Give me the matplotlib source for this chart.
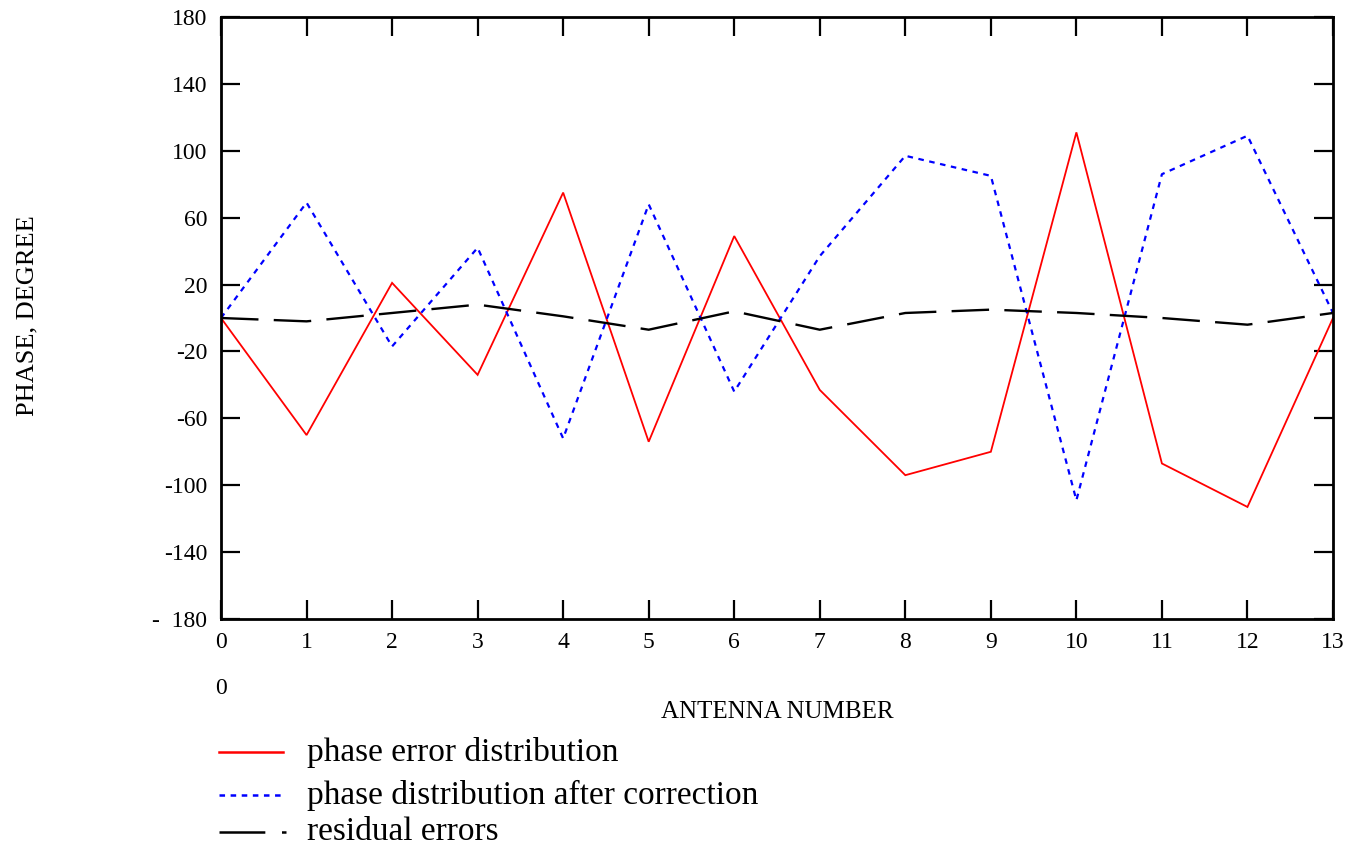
import matplotlib
matplotlib.use("Agg")
import matplotlib.pyplot as plt
from matplotlib.lines import Line2D

antenna = list(range(14))
phase_error = [0, -70, 21, -34, 75, -74, 49, -43, -94, -80, 111, -87, -113, 0]
after_correction = [0, 69, -17, 42, -72, 68, -44, 37, 97, 85, -109, 86, 109, 3]
residual = [0, -2, 3, 8, 1, -7, 4, -7, 3, 5, 3, 0, -4, 3]

yticks = [-180, -140, -100, -60, -20, 20, 60, 100, 140, 180]
ytick_labels = ["-  180", "-140", "-100", "-60", "-20", "20", "60", "100", "140", "180"]
legend_labels = ["phase error distribution", "phase distribution after correction", "residual errors"]

plt.rcParams['font.family'] = ['Liberation Serif', 'DejaVu Serif']
plt.rcParams['lines.scale_dashes'] = False

W, H = 1353, 849
fig = plt.figure(figsize=(W/100, H/100), dpi=100)
ax = fig.add_axes([221/W, 1-619/H, (1333-221)/W, (619-17)/H])

blue_style = (0, (4, 4))
black_style = (0, (27, 11))

ax.plot(antenna, phase_error, color='#ff0000', lw=1.3, solid_joinstyle='miter')
ax.plot(antenna, after_correction, color='#0000ff', lw=1.6, linestyle=blue_style)
ax.plot(antenna, residual, color='black', lw=1.7, linestyle=black_style)

ax.set_xlim(0, 13)
ax.set_ylim(-180, 180)
ax.set_xticks(antenna)
ax.set_xticklabels([str(a) for a in antenna], fontsize=17)
ax.set_yticks(yticks)
ax.set_yticklabels(ytick_labels, fontsize=17)
ax.tick_params(direction='in', length=14, width=1.6, top=True, right=True)
ax.tick_params(axis='y', pad=10)
ax.tick_params(axis='x', pad=9)
for s in ax.spines.values():
    s.set_linewidth(2.0)

fig.text(27/W, 1-316/H, "PHASE, DEGREE", rotation=90, ha='center', va='center', fontsize=19)
fig.text(777/W, 1-712/H, "ANTENNA NUMBER", ha='center', va='center', fontsize=18)
fig.text(221/W, 1-688/H, "0", ha='center', va='center', fontsize=17)

# legend drawn below the axes
rows = [752, 795, 832]
handles = [dict(color='#ff0000', lw=1.8, ls='-', x1=283),
           dict(color='#0000ff', lw=1.8, ls=blue_style, x1=283),
           dict(color='black', lw=1.8, ls=(0, (33, 12)), x1=286)]
for y, h, lab in zip(rows, handles, legend_labels):
    fig.add_artist(Line2D([219/W, h['x1']/W], [1-y/H, 1-y/H], transform=fig.transFigure,
                          color=h['color'], lw=h['lw'], linestyle=h['ls']))
    fig.text(307/W, 1-y/H, lab, ha='left', va='center', fontsize=24)

fig.savefig("out.png", dpi=100, facecolor='white')
